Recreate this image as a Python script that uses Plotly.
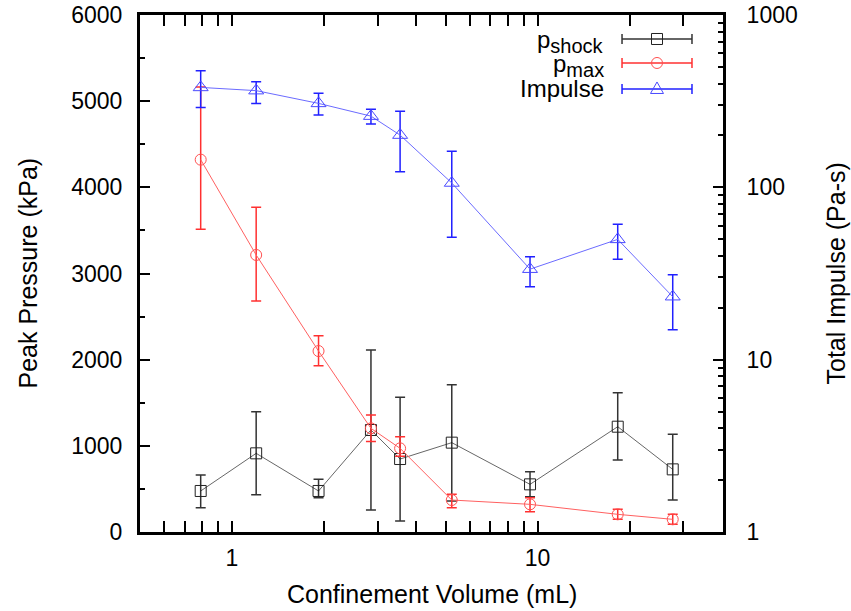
import plotly.graph_objects as go

# ---- data ----
volume = [0.79, 1.2, 1.92, 2.85, 3.55, 5.24, 9.45, 18.3, 27.7]          # mL
p_shock = [476, 913, 476, 1184, 847, 1037, 553, 1222, 727]               # kPa
p_shock_hi = [661, 1396, 611, 2112, 1563, 1710, 700, 1617, 1134]
p_shock_lo = [282, 433, 398, 255, 128, 360, 410, 836, 371]
p_max = [4321, 3215, 2100, 1203, 971, 371, 321, 205, 147]                # kPa
p_max_hi = [5164, 3768, 2278, 1358, 1106, 437, 398, 263, 205]
p_max_lo = [3513, 2681, 1930, 1050, 880, 282, 236, 147, 89]
impulse = [380, 364, 307, 259, 201, 106, 33.5, 49.9, 23.2]               # Pa-s
impulse_hi = [475, 410, 351, 284, 276, 162, 39.6, 61, 31.1]
impulse_lo = [291, 307, 263, 233, 123, 51.3, 26.5, 38.2, 14.9]

x_major = [1, 10]
x_minor = [0.6, 0.7, 0.8, 0.9, 2, 3, 4, 5, 6, 7, 8, 9, 20, 30]
y_major = [0, 1000, 2000, 3000, 4000, 5000, 6000]
y_minor = [500, 1500, 2500, 3500, 4500, 5500]
y2_major = [1, 10, 100, 1000]
y2_minor = [m * d for d in (1, 10, 100) for m in range(2, 10)]

FONT = "Liberation Sans"
FS = 23
TFS = 25

def err(v, hi, lo):
    return dict(type="data", symmetric=False,
                array=[h - a for a, h in zip(v, hi)],
                arrayminus=[a - l for a, l in zip(v, lo)])

fig = go.Figure()

e = err(p_shock, p_shock_hi, p_shock_lo)
e.update(color="#333333", thickness=1.5, width=5)
fig.add_trace(go.Scatter(x=volume, y=p_shock, mode="lines+markers",
                         line=dict(color="rgba(0,0,0,0.6)", width=1),
                         marker=dict(symbol="square-open", size=11,
                                     color="#222222", line=dict(width=1)),
                         error_y=e, showlegend=False))

e = err(p_max, p_max_hi, p_max_lo)
e.update(color="#ff3030", thickness=1.5, width=5)
fig.add_trace(go.Scatter(x=volume, y=p_max, mode="lines+markers",
                         line=dict(color="#ff6060", width=1),
                         marker=dict(symbol="circle-open", size=11,
                                     color="#ff5050", line=dict(width=1)),
                         error_y=e, showlegend=False))

e = err(impulse, impulse_hi, impulse_lo)
e.update(color="#2020ff", thickness=1.5, width=5)
fig.add_trace(go.Scatter(x=volume, y=impulse, yaxis="y2", mode="lines+markers",
                         line=dict(color="#6b6bff", width=1),
                         marker=dict(symbol="triangle-up-open", size=13,
                                     color="#4a4aff", line=dict(width=1)),
                         error_y=e, showlegend=False))

tickfont = dict(family=FONT, size=FS, color="black")

fig.update_layout(
    width=851, height=611,
    margin=dict(l=140, r=128, t=15, b=79, autoexpand=False),
    paper_bgcolor="white", plot_bgcolor="white",
    showlegend=False,
    xaxis=dict(type="log", range=[-0.301, 1.607], automargin=False,
               tickmode="array", tickvals=x_major, ticktext=["1", "10"],
               ticks="inside", ticklen=11, tickwidth=2, tickcolor="black",
               minor=dict(tickmode="array", tickvals=x_minor, ticks="inside",
                          ticklen=6, tickwidth=2, tickcolor="black", showgrid=False),
               showline=True, linewidth=3, linecolor="black", mirror="allticks",
               showgrid=False, zeroline=False, tickfont=tickfont,
               ticklabelstandoff=3),
    yaxis=dict(range=[0, 6000], automargin=False,
               tickmode="array", tickvals=y_major,
               ticks="inside", ticklen=10, tickwidth=2, tickcolor="black",
               minor=dict(tickmode="array", tickvals=y_minor, ticks="inside",
                          ticklen=5, tickwidth=2, tickcolor="black", showgrid=False),
               showline=True, linewidth=3, linecolor="black", mirror=False,
               showgrid=False, zeroline=False, tickfont=tickfont,
               ticklabelstandoff=10),
    yaxis2=dict(type="log", range=[0, 3], overlaying="y", side="right",
                automargin=False,
                tickmode="array", tickvals=y2_major,
                ticktext=["1", "10", "100", "1000"],
                ticks="inside", ticklen=10, tickwidth=2, tickcolor="black",
                minor=dict(tickmode="array", tickvals=y2_minor, ticks="inside",
                           ticklen=5, tickwidth=2, tickcolor="black", showgrid=False),
                showline=True, linewidth=3, linecolor="black",
                showgrid=False, zeroline=False, tickfont=tickfont,
                ticklabelstandoff=16),
)

# axis titles
title_font = dict(family=FONT, size=TFS, color="black")
fig.add_annotation(text="Confinement Volume (mL)", xref="paper", yref="paper",
                   x=0.5, y=-0.1199, showarrow=False, font=title_font,
                   xanchor="center", yanchor="middle")
fig.add_annotation(text="Peak Pressure (kPa)", xref="paper", yref="paper",
                   x=-0.1938, y=0.5, showarrow=False, font=title_font,
                   textangle=-90, xanchor="center", yanchor="middle")
fig.add_annotation(text="Total Impulse (Pa-s)", xref="paper", yref="paper",
                   x=1.1938, y=0.5, showarrow=False, font=title_font,
                   textangle=-90, xanchor="center", yanchor="middle")

# custom legend (text on the left, sample with error bar on the right)
SUB = '<sub><span style="font-size:20px">%s</span></sub>'
legend_items = [
    ("p" + SUB % "shock", "#333333", "square"),
    ("p" + SUB % "max", "#ff3030", "circle"),
    ("Impulse", "#2020ff", "triangle"),
]
row_y = [0.9536, 0.9072, 0.8569]
text_y = [0.9490, 0.9030, 0.8585]
lx0, lx1, lxm, ltext = 0.8268, 0.9468, 0.8868, 0.7993
legend_font = dict(family=FONT, size=24, color="black")
for (label, ecol, sym), yy, ty in zip(legend_items, row_y, text_y):
    fig.add_annotation(text=label, xref="paper", yref="paper", x=ltext, y=ty,
                       showarrow=False, xanchor="right", yanchor="middle",
                       font=legend_font)
    fig.add_shape(type="line", xref="paper", yref="paper", x0=lx0, x1=lx1,
                  y0=yy, y1=yy, line=dict(color=ecol, width=1.5))
    for xc in (lx0, lx1):
        fig.add_shape(type="line", xref="paper", yref="paper", x0=xc, x1=xc,
                      ysizemode="pixel", yanchor=yy, y0=-5, y1=5,
                      line=dict(color=ecol, width=1.5))
    if sym == "square":
        fig.add_shape(type="rect", xref="paper", yref="paper",
                      xsizemode="pixel", ysizemode="pixel", xanchor=lxm, yanchor=yy,
                      x0=-5.5, x1=5.5, y0=-5.5, y1=5.5,
                      line=dict(color="#222222", width=1), fillcolor="rgba(0,0,0,0)")
    elif sym == "circle":
        fig.add_shape(type="circle", xref="paper", yref="paper",
                      xsizemode="pixel", ysizemode="pixel", xanchor=lxm, yanchor=yy,
                      x0=-5.5, x1=5.5, y0=-5.5, y1=5.5,
                      line=dict(color="#ff5050", width=1), fillcolor="rgba(0,0,0,0)")
    else:
        fig.add_shape(type="path", xref="paper", yref="paper",
                      xsizemode="pixel", ysizemode="pixel", xanchor=lxm, yanchor=yy,
                      path="M -6.5,-4.5 L 6.5,-4.5 L 0,7 Z",
                      line=dict(color="#4a4aff", width=1), fillcolor="rgba(0,0,0,0)")

fig.write_html("out.html")
